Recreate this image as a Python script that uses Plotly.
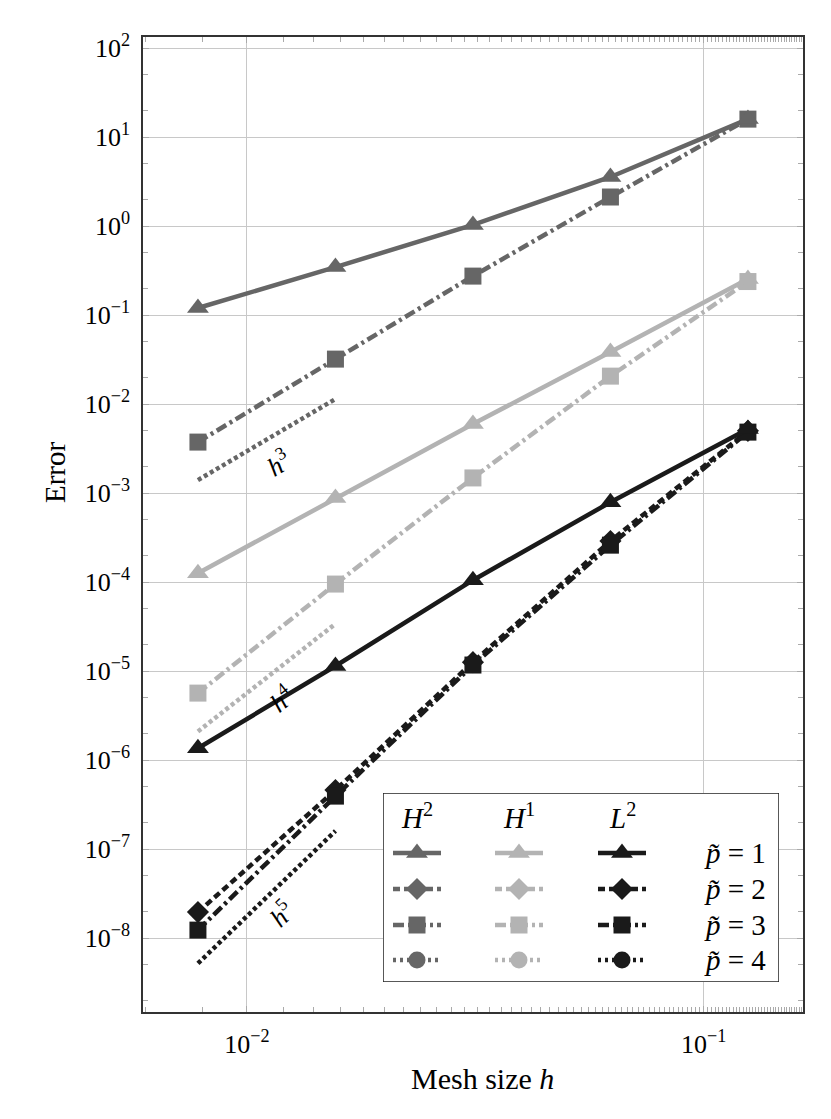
import math
import plotly.graph_objects as go

# mesh sizes
h = [1/128, 1/64, 1/32, 1/16, 1/8]

# errors
h2_p1 = [0.12, 0.346, 1.03, 3.56, 15.9]
h2_p3 = [3.74e-3, 0.032, 0.274, 2.12, 15.9]
h1_p1 = [1.26e-4, 8.8e-4, 5.96e-3, 0.0384, 0.254]
h1_p3 = [5.66e-6, 9.5e-5, 1.48e-3, 0.0206, 0.238]
l2_p1 = [1.36e-6, 1.14e-5, 1.05e-4, 7.9e-4, 5.24e-3]
l2_p2 = [1.96e-8, 4.6e-7, 1.26e-5, 2.89e-4, 5.0e-3]
l2_p3 = [1.23e-8, 3.94e-7, 1.17e-5, 2.6e-4, 4.84e-3]

# slope guides
ref_h = [1/128, 1/64]
ref_h3 = [1.4e-3, 1.14e-2]
ref_h4 = [2.1e-6, 3.4e-5]
ref_h5 = [5.2e-9, 1.6e-7]

# tick labels
y_exps = list(range(-8, 3))
x_exps = [-2, -1]

C_H2, C_H1, C_L2 = "#666666", "#b3b3b3", "#1a1a1a"
FONT = "Liberation Serif"
DASH = {1: "solid", 2: "7px,4px", 3: "11px,4px,3px,4px", 4: "3px,4px"}
SYM = {1: "triangle-up", 2: "diamond", 3: "square", 4: "circle"}
MSIZE = {1: 19, 2: 17, 3: 17, 4: 17}

fig = go.Figure()

def guide(y, color):
    fig.add_trace(go.Scatter(x=ref_h, y=y, mode="lines", showlegend=False,
                             line=dict(color=color, width=4.5, dash="4px,3px")))

guide(ref_h3, C_H2)
guide(ref_h4, C_H1)
guide(ref_h5, C_L2)

def series(y, color, p):
    fig.add_trace(go.Scatter(x=h, y=y, mode="lines+markers", showlegend=False,
                             line=dict(color=color, width=4.5, dash=DASH[p]),
                             marker=dict(symbol=SYM[p], size=MSIZE[p], color=color)))

series(h2_p3, C_H2, 3)
series(h2_p1, C_H2, 1)
series(h1_p3, C_H1, 3)
series(h1_p1, C_H1, 1)
series(l2_p2, C_L2, 2)
series(l2_p3, C_L2, 3)
series(l2_p1, C_L2, 1)

# slope labels (log axes -> positions in log10 units)
for txt, x, y, ang in [("<i>h</i><sup>3</sup>", 0.01171, 2.23e-3, -31),
                       ("<i>h</i><sup>4</sup>", 0.01188, 4.97e-6, -39),
                       ("<i>h</i><sup>5</sup>", 0.01188, 1.91e-8, -44)]:
    fig.add_annotation(x=math.log10(x), y=math.log10(y), xref="x", yref="y",
                       text=txt, showarrow=False, textangle=ang,
                       font=dict(family=FONT, size=26, color="black"))

# custom legend drawn on an inset axes (page-pixel-like coordinates)
L_X0, L_X1, L_Y0, L_Y1 = 383, 779, 793, 982
cols = [(C_H2, 417, "<i>H</i><sup>2</sup>"), (C_H1, 519, "<i>H</i><sup>1</sup>"),
        (C_L2, 622, "<i>L</i><sup>2</sup>")]
rows = {1: 853, 2: 889, 3: 925, 4: 960}

fig.add_shape(type="rect", xref="x2", yref="y2", x0=L_X0, x1=L_X1, y0=L_Y0, y1=L_Y1,
              fillcolor="white", line=dict(color="#222222", width=1.5), layer="between")

for color, cx, label in cols:
    fig.add_annotation(x=cx, y=816, xref="x2", yref="y2", text=label, showarrow=False,
                       font=dict(family=FONT, size=29, color="black"))
    for p, ry in rows.items():
        fig.add_trace(go.Scatter(x=[cx - 24, cx + 24], y=[ry, ry],
                                 xaxis="x2", yaxis="y2", mode="lines",
                                 showlegend=False, hoverinfo="skip",
                                 line=dict(color=color, width=4.5, dash=DASH[p])))
        fig.add_trace(go.Scatter(x=[cx], y=[ry], xaxis="x2", yaxis="y2", mode="markers",
                                 showlegend=False, hoverinfo="skip",
                                 marker=dict(symbol=SYM[p], size=MSIZE[p], color=color)))
for p, ry in rows.items():
    fig.add_annotation(x=735, y=ry, xref="x2", yref="y2",
                       text="<i>p\u0303</i> = %d" % p, showarrow=False,
                       font=dict(family=FONT, size=29, color="black"))

# axis titles (placed as in the reference, slightly off-centre)
fig.add_annotation(x=(55 - 143) / 660, y=(1012 - 472) / 975, xref="paper", yref="paper",
                   xanchor="center", yanchor="middle",
                   text="Error", textangle=-90, showarrow=False,
                   font=dict(family=FONT, size=29, color="black"))
fig.add_annotation(x=(482 - 143) / 660, y=(1012 - 1078) / 975, xref="paper", yref="paper",
                   xanchor="center", yanchor="middle",
                   text="Mesh size <i>h</i>", showarrow=False,
                   font=dict(family=FONT, size=30, color="black"))

axis_common = dict(type="log", showline=True, linecolor="#333333", linewidth=1.5,
                   mirror="allticks", ticks="inside", ticklen=6, tickcolor="#aaaaaa",
                   showgrid=True, gridcolor="#c8c8c8", gridwidth=1, zeroline=False,
                   minor=dict(ticks="inside", ticklen=5, tickcolor="#aaaaaa", showgrid=False),
                   tickfont=dict(family=FONT, size=26, color="black"))

def pow_labels(exps):
    return [10.0 ** e for e in exps], ["10<sup>%s</sup>" % str(e).replace("-", "\u2212")
                                      for e in exps]

xt_v, xt_t = pow_labels(x_exps)
yt_v, yt_t = pow_labels(y_exps)

# page has an 8px body margin, so the figure is shifted; sizes compensate
fig.update_layout(
    width=823, height=1111,
    margin=dict(l=135, r=28, t=29, b=107),
    paper_bgcolor="white", plot_bgcolor="white",
    xaxis=dict(axis_common, range=[-2.2275, -0.7825], tickmode="array",
               tickvals=xt_v, ticktext=xt_t, ticklabelstandoff=8),
    yaxis=dict(axis_common, range=[-8.83, 2.124], tickmode="array",
               tickvals=yt_v, ticktext=yt_t, ticklabelstandoff=6),
    xaxis2=dict(domain=[(L_X0 - 143) / 660, (L_X1 - 143) / 660], range=[L_X0, L_X1],
                anchor="y2", visible=False, fixedrange=True),
    yaxis2=dict(domain=[(1012 - L_Y1) / 975, (1012 - L_Y0) / 975], range=[L_Y1, L_Y0],
                anchor="x2", visible=False, fixedrange=True),
)

fig.write_html("out.html")
